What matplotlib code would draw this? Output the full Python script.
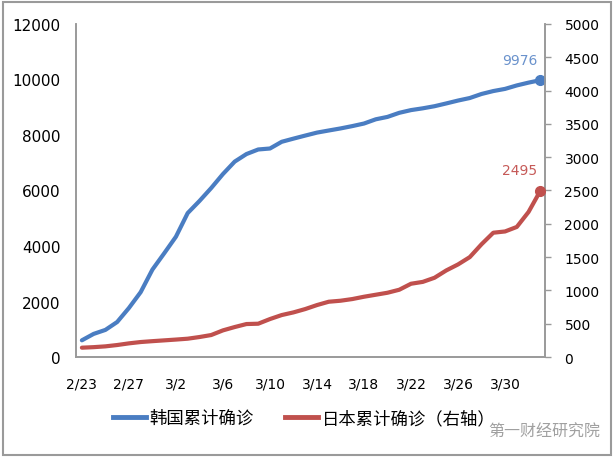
import matplotlib
matplotlib.use('Agg')
import matplotlib.pyplot as plt
from matplotlib.patches import Rectangle

plt.rcParams['font.family'] = ['DejaVu Sans', 'Noto Sans CJK SC']

# daily dates 2/23 .. 4/2
dates = ['2/23', '2/24', '2/25', '2/26', '2/27', '2/28', '2/29', '3/1', '3/2', '3/3',
         '3/4', '3/5', '3/6', '3/7', '3/8', '3/9', '3/10', '3/11', '3/12', '3/13',
         '3/14', '3/15', '3/16', '3/17', '3/18', '3/19', '3/20', '3/21', '3/22', '3/23',
         '3/24', '3/25', '3/26', '3/27', '3/28', '3/29', '3/30', '3/31', '4/1', '4/2']

# 韩国累计确诊 (left axis)
korea = [602, 833, 977, 1261, 1766, 2337, 3150, 3736, 4335, 5186,
         5621, 6088, 6593, 7041, 7313, 7478, 7513, 7755, 7869, 7979,
         8086, 8162, 8236, 8320, 8413, 8565, 8652, 8799, 8897, 8961,
         9037, 9137, 9241, 9332, 9478, 9583, 9661, 9786, 9887, 9976]

# 日本累计确诊 (right axis)
japan = [140, 148, 160, 180, 205, 225, 238, 250, 262, 275,
         300, 330, 400, 450, 495, 500, 570, 630, 670, 720,
         780, 830, 845, 870, 905, 935, 965, 1010, 1100, 1128,
         1190, 1300, 1390, 1500, 1693, 1866, 1885, 1953, 2178, 2495]

tick_idx = list(range(0, 37, 4))
blue = '#4A7DC2'
red = '#C0504D'
grey = '#9A9A9A'

fig = plt.figure(figsize=(6.15, 4.6), dpi=100)
ax = fig.add_axes([0.1236, 0.2217, 0.7626, 0.724])
ax2 = ax.twinx()

x = list(range(len(dates)))
ax.plot(x, korea, color=blue, lw=3, solid_capstyle='round', solid_joinstyle='round', zorder=3)
ax.plot(x[-1], korea[-1], 'o', color=blue, ms=7, zorder=4)
ax2.plot(x, japan, color=red, lw=3, solid_capstyle='round', solid_joinstyle='round', zorder=3)
ax2.plot(x[-1], japan[-1], 'o', color=red, ms=7, zorder=4)

ax.annotate(str(korea[-1]), (x[-1], korea[-1]), xytext=(-20, 20), textcoords='offset pixels',
            ha='center', va='center', color='#6A92CC', fontsize=10)
ax2.annotate(str(japan[-1]), (x[-1], japan[-1]), xytext=(-21, 21), textcoords='offset pixels',
             ha='center', va='center', color='#C65A58', fontsize=10)

ax.set_xlim(-0.5, 39.4)
ax.set_ylim(0, 12000)
ax2.set_ylim(0, 5000)
ax.set_yticks(range(0, 12001, 2000))
ax2.set_yticks(range(0, 5001, 500))
ax.set_xticks(tick_idx)
ax.set_xticklabels([dates[i] for i in tick_idx])

for a in (ax, ax2):
    a.spines['top'].set_visible(False)
    for s in ('left', 'right', 'bottom'):
        a.spines[s].set_color(grey)
        a.spines[s].set_linewidth(1.2)
ax.tick_params(axis='y', length=0, pad=11, labelsize=11)
ax.tick_params(axis='x', length=0, pad=14, labelsize=10)
ax2.tick_params(axis='y', length=4, color=grey, width=1, pad=10, labelsize=10)

h1, = ax.plot([], [], color=blue, lw=3.5)
h2, = ax.plot([], [], color=red, lw=3.5)
fig.legend([h1, h2], ['韩国累计确诊', '日本累计确诊（右轴）'], loc='center',
           bbox_to_anchor=(0.495, 0.089), ncol=2, frameon=False, fontsize=12.5,
           handlelength=1.9, handletextpad=0.2, columnspacing=1.8)

fig.text(0.885, 0.06, '第一财经研究院', ha='center', va='center', color='#A0A0A0', fontsize=11.5)

fig.patches.append(Rectangle((0.005, 0.008), 0.988, 0.985, transform=fig.transFigure,
                             fill=False, edgecolor=grey, lw=1.5))

fig.savefig('out.png', dpi=100)
